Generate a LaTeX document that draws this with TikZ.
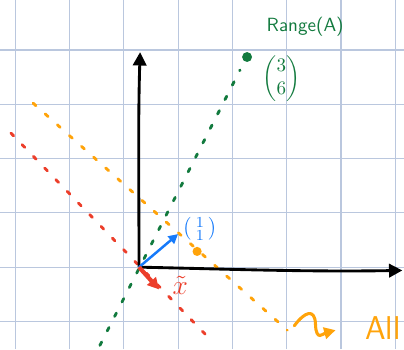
\documentclass[tikz,border=0pt]{standalone}
\usepackage{amsmath}
\usetikzlibrary{arrows.meta}
\definecolor{gridblue}{RGB}{186,199,222}
\definecolor{rangegreen}{RGB}{18,122,62}
\definecolor{nullred}{RGB}{236,62,42}
\definecolor{solorange}{RGB}{255,163,10}
\definecolor{vecblue}{RGB}{22,122,250}
\begin{document}
\begin{tikzpicture}[
  gridline/.style={gridblue, line width=0.6pt},
  axis/.style={-{Triangle[length=7pt,width=7pt]}, line width=1.5pt},
  dots/.style={line width=1.5pt, line cap=round, dash pattern=on 2pt off 6.5pt},
  hand/.style={font=\sffamily}
]
\useasboundingbox (-2.56,-1.51) rectangle (4.88,4.92);

% Background grid
\foreach \x in {-2,...,5} \draw[gridline] ({\x-0.28},-1.51) -- ({\x-0.28},4.92);
\foreach \y in {-1,...,4} \draw[gridline] (-2.56,\y) -- (4.88,\y);

% Points used by the lines
\coordinate (O) at (0,0);
\coordinate (ytop) at (0.02,3.96);
\coordinate (xend) at (4.85,-0.06);
\coordinate (g1) at (-0.72,-1.44);
\coordinate (g2) at (1.86,3.63);
\coordinate (r1) at (-2.36,2.47);
\coordinate (r2) at (1.36,-1.38);
\coordinate (o1) at (-1.95,3.02);
\coordinate (o2) at (2.73,-1.16);
\coordinate (xp) at (0.72,0.61);
\coordinate (xt) at (0.37,-0.41);
\coordinate (s1) at (2.86,-1.08);
\coordinate (s2) at (3.62,-1.16);

% Range of A (green), null space (red), all solutions (orange)
\draw[dots, rangegreen] (g1) -- (g2);
\draw[dots, nullred] (r1) -- (r2);
\draw[dots, solorange] (o1) -- (o2);

% Axes
\draw[axis] (O) .. controls (0.0,1.5) and (-0.02,2.6) .. (ytop);
\draw[axis] (O) .. controls (1.5,-0.03) and (3.0,-0.09) .. (xend);

% Range point and labels
\fill[rangegreen] (1.99,3.87) circle (2.6pt) coordinate (rangept);
\node[hand, rangegreen] (rangelbl) at (3.06,4.42) {Range(A)};
\node[rangegreen] (bvec) at (2.62,3.48) {$\begin{pmatrix}3\\6\end{pmatrix}$};

% Particular solution
\draw[-{Triangle[length=5pt,width=5pt]}, line width=1.3pt, vecblue] (O) -- (xp);
\node[vecblue, font=\large] (xplbl) at (1.12,0.7) {$\left(\begin{smallmatrix}1\\1\end{smallmatrix}\right)$};
\fill[solorange] (1.07,0.29) circle (2.4pt) coordinate (odot);

% Null space vector
\draw[-{Triangle[length=6pt,width=6pt]}, line width=2.2pt, nullred] (O) -- (xt);
\node[nullred, font=\Large] (xtlbl) at (0.76,-0.34) {$\tilde{x}$};

% Squiggle to the label
\draw[-{Triangle[length=6pt,width=6pt]}, line width=1.6pt, solorange, line cap=round]
  (s1) .. controls (3.05,-0.82) and (3.24,-0.75) .. (3.25,-1.05)
  .. controls (3.26,-1.38) and (3.4,-1.22) .. (s2);
\node[hand, solorange, font=\sffamily\LARGE] (alllbl) at (4.49,-1.12) {All};
\end{tikzpicture}
\end{document}
